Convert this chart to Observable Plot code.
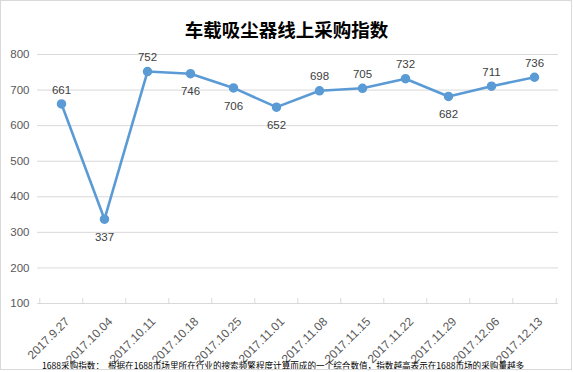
<!DOCTYPE html>
<html><head><meta charset="utf-8">
<script src="https://cdn.jsdelivr.net/npm/d3@7"></script>
<script src="https://cdn.jsdelivr.net/npm/@observablehq/plot@0.6"></script>
<style>
body{margin:0;background:#fff;}
#wrap{position:relative;width:573px;height:372px;overflow:hidden;font-family:"Noto Sans CJK SC","Liberation Sans",sans-serif;}
#frame{position:absolute;left:0;top:0;width:570px;height:368px;border:1px solid #d9d9d9;pointer-events:none;}
#title{position:absolute;left:0;width:573px;top:16px;text-align:center;font-size:18.5px;font-weight:bold;color:#000;line-height:26px;}
#caption{position:absolute;left:42px;top:359px;font-size:8.6px;color:#000;white-space:nowrap;line-height:12px;}
#chart svg{display:block;}
</style></head>
<body><div id="wrap"><div id="chart"></div><div id="title">车载吸尘器线上采购指数</div><div id="caption">1688采购指数：&nbsp;&nbsp;根据在1688市场里所在行业的搜索频繁程度计算而成的一个综合数值，指数越高表示在1688市场的采购量越多</div><div id="frame"></div></div>
<script>
const dates = ["2017.9.27","2017.10.04","2017.10.11","2017.10.18","2017.10.25","2017.11.01","2017.11.08","2017.11.15","2017.11.22","2017.11.29","2017.12.06","2017.12.13"];
const values = [661,337,752,746,706,652,698,705,732,682,711,736];
const labelBelow = [false,true,false,true,true,true,false,false,false,true,false,false];
const yTicks = [100,200,300,400,500,600,700,800];

const data = dates.map((d,i)=>({date:d, value:values[i], below:labelBelow[i]}));
const W = 573, H = 372, mL = 37, mR = 15, mT = 54, mB = 69;
const step = (W - mL - mR) / dates.length;

const chart = Plot.plot({
  width: W, height: H,
  marginLeft: mL, marginRight: mR, marginTop: mT, marginBottom: mB,
  style: {fontFamily: "'Liberation Sans', Arial, sans-serif", background: "transparent"},
  x: {type: "point", domain: dates, padding: 0.5, axis: null},
  y: {domain: [100, 800], ticks: yTicks, label: null, tickSize: 0, tickPadding: 8},
  marks: [
    Plot.gridY(yTicks, {stroke: "#d9d9d9", strokeOpacity: 1, strokeWidth: 1}),
    Plot.axisY(yTicks, {tickSize: 0, tickPadding: 8, fontSize: 11.5, fill: "#595959", label: null}),
    Plot.ruleY([100], {stroke: "#d9d9d9", strokeWidth: 1}),
    Plot.ruleX(dates, {x: d => d, dx: -step/2, stroke: "#d9d9d9", y1: 100, y2: 114}),
    Plot.ruleX([dates[dates.length-1]], {x: d => d, dx: step/2, stroke: "#d9d9d9", y1: 100, y2: 114}),
    Plot.line(data, {x: "date", y: "value", stroke: "#5b9bd5", strokeWidth: 2.6, curve: "linear"}),
    Plot.dot(data, {x: "date", y: "value", r: 4, fill: "#5b9bd5", stroke: "#5b9bd5"}),
    Plot.text(data.filter(d => !d.below), {x: "date", y: "value", text: d => String(d.value), dy: -14, fontSize: 11.5, fill: "#404040"}),
    Plot.text(data.filter(d => d.below), {x: "date", y: "value", text: d => String(d.value), dy: 18, fontSize: 11.5, fill: "#404040"}),
    Plot.text(data, {x: "date", y: 100, text: "date", rotate: -45, textAnchor: "end", dx: 6, dy: 16, fontSize: 12, fill: "#595959"})
  ]
});
document.getElementById("chart").appendChild(chart);
</script>
</body></html>
